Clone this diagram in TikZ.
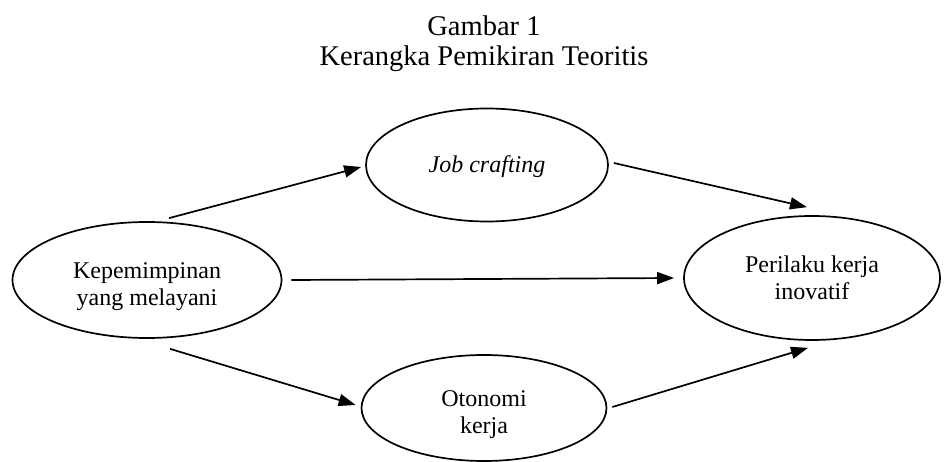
\documentclass[tikz,border=0pt]{standalone}
\usepackage{fontspec}
\setmainfont{Liberation Serif}
\usetikzlibrary{shapes.geometric,arrows.meta,calc}
\begin{document}
\begin{tikzpicture}[x=1pt,y=-1pt,
  oval/.style={ellipse,draw,line width=1.7pt,inner sep=0pt},
  txt/.style={align=center,inner sep=0pt,font=\fontsize{24}{27}\selectfont},
  arr/.style={line width=1.7pt,-{Triangle[length=17pt,width=12pt]}},
  ttl/.style={anchor=base,font=\fontsize{28.5}{30}\selectfont,inner sep=0pt}]
\useasboundingbox (0,0) rectangle (945,462);
\node[ttl] (t1) at (484,36) {Gambar 1};
\node[ttl] (t2) at (484,66) {Kerangka Pemikiran Teoritis};
\node[oval,minimum width=269pt,minimum height=116pt,
  label={[txt,yshift=-7pt]center:Kepemimpinan\\yang melayani}] (L) at (147,280) {};
\node[oval,minimum width=242pt,minimum height=113pt,
  label={[txt,yshift=-2pt,font=\fontsize{24}{27}\selectfont\itshape]center:Job crafting}] (J) at (487,165) {};
\node[oval,minimum width=256pt,minimum height=124pt,
  label={[txt]center:Perilaku kerja\\inovatif}] (R) at (812,278) {};
\node[oval,minimum width=245pt,minimum height=106pt,
  label={[txt,yshift=-7pt]center:Otonomi\\kerja}] (O) at (484,408) {};
\draw[arr] ($(L.north)+(22,-3)$) -- ($(J.west)+(-4,2)$);
\draw[arr] ($(J.east)+(5,-2)$) -- ($(R.north)+(-5,-8)$);
\draw[arr] ($(L.east)+(9,0)$) -- ($(R.west)+(-9,0)$);
\draw[arr] ($(L.south)+(23,10)$) -- ($(O.west)+(-5,-3)$);
\draw[arr] ($(O.east)+(5,-1)$) -- ($(R.south)+(-4,7)$);
\end{tikzpicture}
\end{document}
